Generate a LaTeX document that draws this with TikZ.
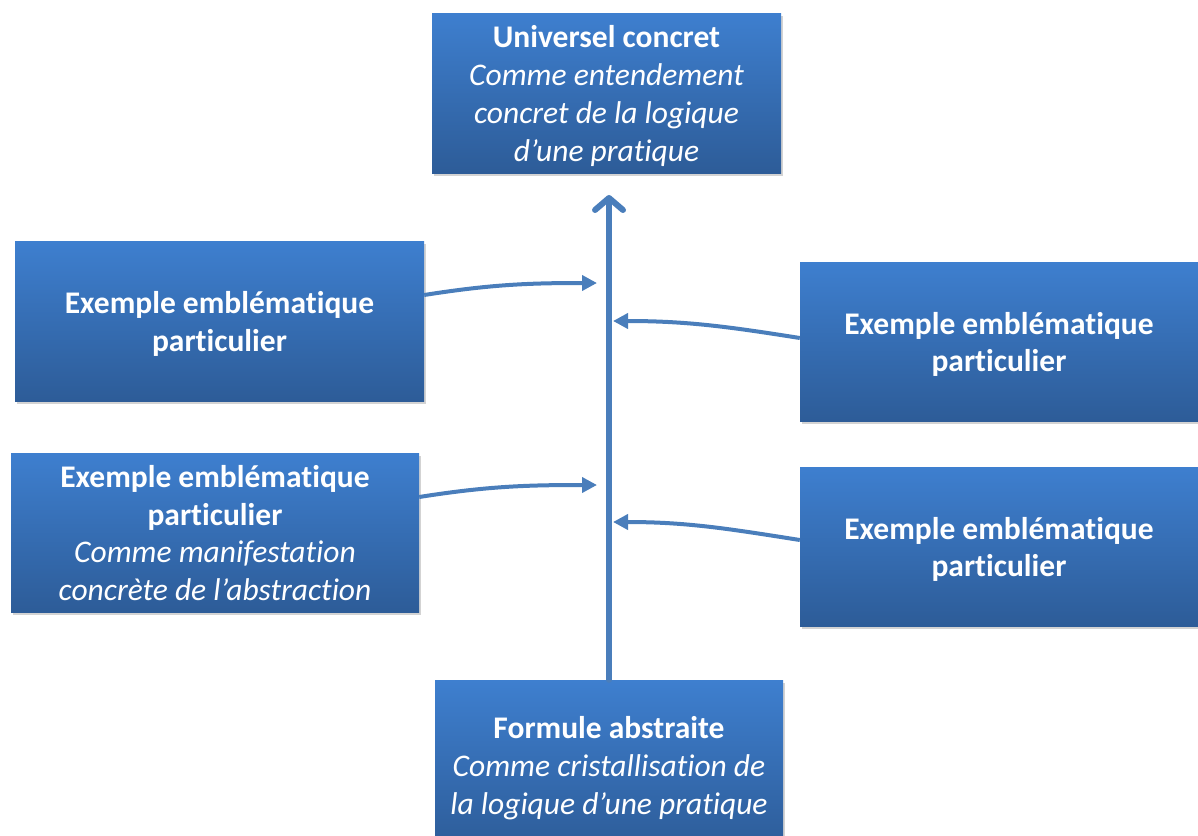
\documentclass[tikz,border=0pt]{standalone}
\usepackage{fontspec}
\setmainfont[Ligatures={NoCommon,NoContextual}]{Carlito}
\usepackage{tikz}
\usetikzlibrary{arrows.meta}
\usetikzlibrary{shadows}
\definecolor{boxtop}{RGB}{62,127,207}
\definecolor{boxbot}{RGB}{45,92,152}
\definecolor{linkblue}{RGB}{74,126,187}
% text block, pushed a little lower in its box
\newcommand{\boxtext}[1]{\raisebox{0pt}[\dimexpr\height+8pt\relax][\depth]{\begin{tabular}{@{}c@{}}#1\end{tabular}}}

\begin{document}
\begin{tikzpicture}[x=1pt, y=1pt,
    box/.style={rectangle, top color=boxtop, bottom color=boxbot, text=white,
        minimum height=160pt, inner xsep=4pt, inner ysep=0pt, font=\fontsize{31.5}{37.7}\selectfont,
        drop shadow={opacity=0.35, shadow xshift=2pt, shadow yshift=-3pt}},
    link/.style={draw=linkblue, line width=4pt, -{Triangle[length=15pt, width=15pt]}},
    mainlink/.style={draw=linkblue, line width=6pt, line cap=round,
        -{Straight Barb[length=12pt, width=28pt, line width=6pt, round]}}]
    \useasboundingbox (0,0) rectangle (1198,-835);
    \clip (0,0) rectangle (1198,-835);
    \node[box, minimum width=349pt](univ) at (606.5,-93) {\boxtext{\textbf{Universel concret}\\ \textit{Comme entendement}\\ \textit{concret de la logique}\\ \textit{d’une pratique}}};
    \node[box, minimum width=409pt](exl1) at (219.5,-321) {\boxtext{\textbf{Exemple emblématique}\\ \textbf{particulier}}};
    \node[box, minimum width=408pt, minimum height=159pt](exl2) at (215,-532.5) {\boxtext{\textbf{Exemple emblématique}\\ \textbf{particulier}\\ \textit{Comme manifestation}\\ \textit{concrète de l’abstraction}}};
    \node[box, minimum width=398pt, minimum height=159pt](exr1) at (999,-341.5) {\boxtext{\textbf{Exemple emblématique}\\ \textbf{particulier}}};
    \node[box, minimum width=398pt, minimum height=159pt](exr2) at (999,-546.5) {\boxtext{\textbf{Exemple emblématique}\\ \textbf{particulier}}};
    \node[box, minimum width=348pt, minimum height=170pt](form) at (609,-765) {\boxtext{\textbf{Formule abstraite}\\ \textit{Comme cristallisation de}\\ \textit{la logique d’une pratique}}};
    \coordinate (tip) at (609,-195);
    \coordinate (inl1) at (597,-283);
    \coordinate (inl2) at (597,-485);
    \coordinate (inr1) at (613,-321);
    \coordinate (inr2) at (613,-522);
    \draw[mainlink] (form.north) to (tip);
    \draw[link] (exl1.east |- 0,-295) to[out=9, in=180] (inl1);
    \draw[link] (exl2.east |- 0,-497) to[out=9, in=180] (inl2);
    \draw[link] (exr1.west |- 0,-338) to[out=171, in=0] (inr1);
    \draw[link] (exr2.west |- 0,-540) to[out=171, in=0] (inr2);
\end{tikzpicture}
\end{document}
